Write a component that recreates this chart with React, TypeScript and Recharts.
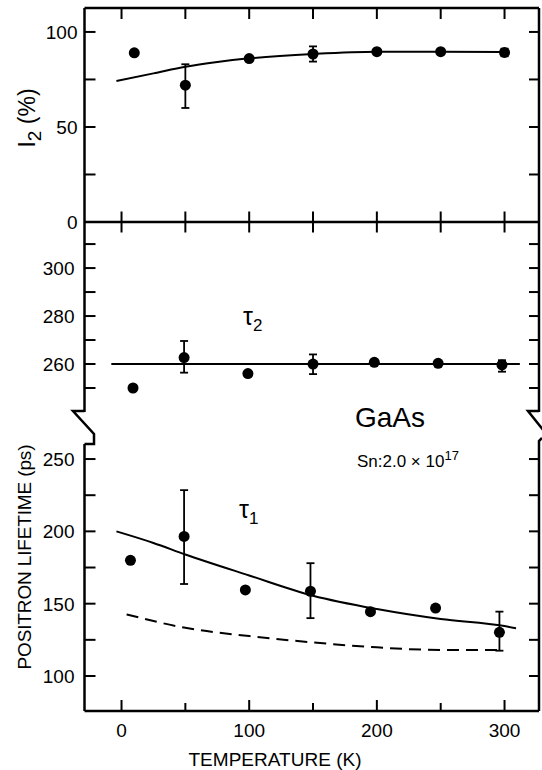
import React from "react";
import { ComposedChart, Line, Scatter, ErrorBar, XAxis, YAxis } from "recharts";

const W = 542;
const H = 770;
const FONT = "'Liberation Sans Narrow', 'Liberation Sans', Arial, sans-serif";

// shared temperature axis (K)
const tDomain = [-29, 327];
const tempTicks = [0, 50, 100, 150, 200, 250, 300];
const tempLabels = [0, 100, 200, 300];

// I2 (%) panel
const i2Temp = [10, 50, 100, 150, 200, 250, 300];
const i2Value = [89, 72, 86, 88.4, 89.6, 89.6, 89.2];
const i2Err = [null, [12, 11], null, [4, 4], null, null, [2, 2]];
const i2FitTemp = [-4, 25, 50, 75, 100, 150, 200, 250, 300];
const i2FitValue = [74.2, 78.2, 81.7, 84.2, 86.1, 88.4, 89.6, 89.6, 89.4];
const i2Ticks = [0, 25, 50, 75, 100];
const i2Labels = [0, 50, 100];

// tau2 panel (ps)
const tau2Temp = [9, 49, 99, 150, 198, 248, 298];
const tau2Value = [250, 262.7, 256, 260, 260.7, 260.3, 259.6];
const tau2Err = [null, [6.3, 6.9], null, [4.2, 4], null, null, [2.8, 2]];
const tau2FitTemp = [-8, 312];
const tau2FitValue = [260, 260];
const tau2Ticks = [250, 260, 270, 280, 290, 300, 310];
const tau2Labels = [260, 280, 300];

// tau1 panel (ps)
const tau1Temp = [7, 49, 97, 148, 195, 246, 296];
const tau1Value = [180, 196.5, 159.5, 158.6, 144.5, 147, 130.2];
const tau1Err = [null, [32.9, 32], null, [18.6, 19.4], null, null, [12.7, 14.3]];
const tau1FitTemp = [-4, 25, 50, 100, 150, 200, 250, 300, 309];
const tau1FitValue = [200, 192, 184, 169.5, 155.5, 146.3, 139.4, 134.5, 133];
const tau1DashTemp = [4, 50, 100, 150, 200, 250, 295];
const tau1DashValue = [142.6, 133.3, 127.6, 123.2, 119.8, 118, 118];
const tau1Ticks = [100, 125, 150, 175, 200, 225, 250];
const tau1Labels = [100, 150, 200, 250];

const pts = (t: number[], v: number[], e?: any[]) =>
  t.map((x, i) => ({ t: x, v: v[i], e: e ? e[i] ?? undefined : undefined }));

const leftTick = (labels: number[], gap: number) => (p: any) => {
  const v = p.payload.value;
  return (
    <g>
      <line x1={p.x} x2={p.x + 11} y1={p.y} y2={p.y} stroke="#000" strokeWidth={2} />
      {labels.includes(v) && (
        <text x={p.x - gap} y={p.y} dy="0.36em" textAnchor="end" fontSize={19} fontFamily={FONT} fill="#000">
          {v}
        </text>
      )}
    </g>
  );
};

const rightTick = (p: any) => (
  <line x1={p.x - 10} x2={p.x} y1={p.y} y2={p.y} stroke="#000" strokeWidth={2} />
);

const topTick = (p: any) => (
  <line x1={p.x} x2={p.x} y1={p.y} y2={p.y + 11} stroke="#000" strokeWidth={2} />
);

const sepTick = (p: any) => (
  <line x1={p.x} x2={p.x} y1={p.y - 10.5} y2={p.y + 10.5} stroke="#000" strokeWidth={2} />
);

const bottomTick = (p: any) => {
  const v = p.payload.value;
  const major = tempLabels.includes(v);
  return (
    <g>
      <line x1={p.x} x2={p.x} y1={p.y - (major ? 11 : 8)} y2={p.y} stroke="#000" strokeWidth={2} />
      {major && (
        <text x={p.x} y={p.y + 19} dy="0.36em" textAnchor="middle" fontSize={19} fontFamily={FONT} fill="#000">
          {v}
        </text>
      )}
    </g>
  );
};

const dotShape = (p: any) => <circle cx={p.cx} cy={p.cy} r={5.5} fill="#000" />;

const axisLine = { stroke: "#000", strokeWidth: 2.5 };

function Panel(props: {
  top: number;
  bottom: number;
  domain: number[];
  yTicks: number[];
  yLabels: number[];
  gap: number;
  mode: "top" | "mid" | "bottom";
  children: React.ReactNode;
}) {
  const { top, bottom, domain, yTicks, yLabels, gap, mode, children } = props;
  const hasTop = mode === "top";
  const hasBottom = mode !== "mid";
  return (
    <div style={{ position: "absolute", left: 0, top: 0 }}>
      <ComposedChart
        width={W}
        height={H}
        margin={{ top: top - (hasTop ? 1 : 0), bottom: H - bottom - (hasBottom ? 1 : 0), left: 83.5, right: 2 }}
      >
        <XAxis
          xAxisId="b"
          dataKey="t"
          type="number"
          domain={tDomain}
          allowDataOverflow
          ticks={tempTicks}
          interval={0}
          height={1}
          hide={!hasBottom}
          axisLine={axisLine}
          tickLine={false}
          tickSize={0}
          tickMargin={0}
          tick={mode === "top" ? sepTick : bottomTick}
        />
        <XAxis
          xAxisId="t"
          orientation="top"
          dataKey="t"
          type="number"
          domain={tDomain}
          allowDataOverflow
          ticks={tempTicks}
          interval={0}
          height={1}
          hide={!hasTop}
          axisLine={axisLine}
          tickLine={false}
          tickSize={0}
          tickMargin={0}
          tick={topTick}
        />
        <YAxis
          yAxisId="l"
          dataKey="v"
          type="number"
          domain={domain}
          allowDataOverflow
          ticks={yTicks}
          interval={0}
          width={1}
          axisLine={axisLine}
          tickLine={false}
          tickSize={0}
          tickMargin={0}
          tick={leftTick(yLabels, gap)}
        />
        <YAxis
          yAxisId="r"
          orientation="right"
          dataKey="v"
          type="number"
          domain={domain}
          allowDataOverflow
          ticks={yTicks}
          interval={0}
          width={1}
          axisLine={axisLine}
          tickLine={false}
          tickSize={0}
          tickMargin={0}
          tick={rightTick}
        />
        {children}
      </ComposedChart>
    </div>
  );
}

const fitLine = (data: any[], dashed = false) => (
  <Line
    xAxisId="b"
    yAxisId="l"
    data={data}
    dataKey="v"
    type="monotone"
    stroke="#000"
    strokeWidth={2}
    strokeDasharray={dashed ? "12 7" : undefined}
    dot={false}
    activeDot={false}
    isAnimationActive={false}
  />
);

const points = (data: any[]) => (
  <Scatter xAxisId="b" yAxisId="l" data={data} dataKey="v" shape={dotShape} isAnimationActive={false}>
    <ErrorBar dataKey="e" direction="y" width={4} stroke="#000" strokeWidth={1.8} isAnimationActive={false} />
  </Scatter>
);

export default function App() {
  return (
    <div style={{ position: "absolute", left: 0, top: 0, width: W, height: H, background: "#fff" }}>
      <Panel top={8} bottom={222} domain={[0, 112.6]} yTicks={i2Ticks} yLabels={i2Labels} gap={7} mode="top">
        {fitLine(pts(i2FitTemp, i2FitValue))}
        {points(pts(i2Temp, i2Value, i2Err))}
      </Panel>
      <Panel top={222} bottom={412} domain={[240, 319.2]} yTicks={tau2Ticks} yLabels={tau2Labels} gap={10} mode="mid">
        {fitLine(pts(tau2FitTemp, tau2FitValue))}
        {points(pts(tau2Temp, tau2Value, tau2Err))}
      </Panel>
      <Panel top={444} bottom={711} domain={[75.8, 260.4]} yTicks={tau1Ticks} yLabels={tau1Labels} gap={10} mode="bottom">
        {fitLine(pts(tau1FitTemp, tau1FitValue))}
        {fitLine(pts(tau1DashTemp, tau1DashValue), true)}
        {points(pts(tau1Temp, tau1Value, tau1Err))}
      </Panel>
      <svg width={W} height={H} style={{ position: "absolute", left: 0, top: 0, pointerEvents: "none" }} fontFamily={FONT}>
        {/* axis breaks */}
        <polyline points="84.5,411 73,411 94,434 94,444 84.5,444" fill="none" stroke="#000" strokeWidth={2.5} />
        <polyline points="539,411 528,411 548,436" fill="none" stroke="#000" strokeWidth={2.5} />
        <polyline points="542,438 539,441 539,444" fill="none" stroke="#000" strokeWidth={2.5} />

        <text transform="translate(35,118) rotate(-90)" textAnchor="middle" fontSize={23}>
          I<tspan dy={6} fontSize={19}>2</tspan>
          <tspan dy={-6}>  (%)</tspan>
        </text>
        <text transform="translate(31,557) rotate(-90)" textAnchor="middle" fontSize={19} textLength={225} lengthAdjust="spacing">
          POSITRON LIFETIME (ps)
        </text>
        <text x={275} y={766} textAnchor="middle" fontSize={19} textLength={173} lengthAdjust="spacing">
          TEMPERATURE (K)
        </text>
        <text x={243} y={325} fontSize={25}>
          τ<tspan dy={6} fontSize={17}>2</tspan>
        </text>
        <text x={239} y={518} fontSize={25}>
          τ<tspan dy={6} fontSize={17}>1</tspan>
        </text>
        <text x={355} y={427} fontSize={28} fontFamily="'Liberation Sans', Arial, sans-serif">
          GaAs
        </text>
        <text x={357} y={467} fontSize={17}>
          Sn:2.0 × 10<tspan dy={-7} fontSize={13}>17</tspan>
        </text>
      </svg>
    </div>
  );
}
